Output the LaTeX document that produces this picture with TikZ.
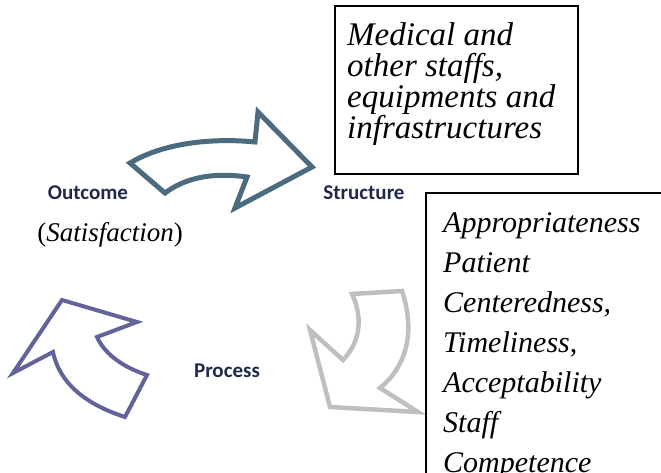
\documentclass[tikz,border=0pt]{standalone}
\usepackage{fontspec}
\setmainfont{Liberation Serif}[ItalicFont={Liberation Serif Italic}, BoldFont={Liberation Serif Bold}]
\newfontfamily\calib{Carlito}
\usepackage{xcolor}
\usetikzlibrary{positioning,calc}

\definecolor{steelarrow}{HTML}{4D6B7E}
\definecolor{purplearrow}{HTML}{63639C}
\definecolor{greyarrow}{HTML}{BFBFBF}
\definecolor{labelnavy}{HTML}{1F2A4A}

\tikzset{
  phase/.style={font=\calib\bfseries\fontsize{21}{25}\selectfont, text=labelnavy, inner sep=0pt},
  listbox/.style={draw, line width=1.6pt, inner sep=0pt, anchor=north west},
  listtext/.style={align=left, inner sep=0pt, anchor=north west, font=\itshape},
}

\begin{document}
\begin{tikzpicture}[x=1pt, y=-1pt]
    \useasboundingbox (0,0) rectangle (661,472);
    \clip (0,0) rectangle (661,472);
    % curved block arrows
    \draw[steelarrow, line width=5pt, line join=miter] (130,163) .. controls (165,142) and (215,138) .. (255,142) -- (258,112) -- (312,167) -- (235,208) -- (247,177) .. controls (212,172) and (185,178) .. (165,193) -- cycle;
    \draw[greyarrow, line width=4.5pt, line join=miter] (352,294) -- (402,291) .. controls (415,330) and (408,365) .. (380,388) -- (418,412) -- (330,407) -- (310,330) -- (343,360) .. controls (362,340) and (362,315) .. (352,294) -- cycle;
    \draw[purplearrow, line width=4pt, line join=miter] (62,300) -- (137,322) -- (97,337) .. controls (105,355) and (125,368) .. (147,375) -- (125,417) .. controls (88,405) and (60,385) .. (53,352) -- (13,373) -- cycle;
    % phase labels
    \node[phase] (outcome) at (88,193) {Outcome};
    \node[inner sep=0pt, font=\fontsize{27}{30}\selectfont] (satisf) at (110,235) {(\textit{Satisfaction})};
    \node[phase] (structure) at (364,193) {Structure};
    \node[phase] (process) at (227,371) {Process};
    % text boxes
    \node[listbox, minimum width=243, minimum height=168] (structbox) at (334,5) {};
    \node[listtext, font=\itshape\fontsize{33}{31}\selectfont] (structtext) at (347,22) {Medical and\\other staffs,\\equipments and\\infrastructures};
    \node[listbox, minimum width=260, minimum height=320] (procbox) at (425,192) {};
    \node[listtext, font=\itshape\fontsize{30}{40}\selectfont] (proctext) at (443,212) {Appropriateness\\Patient\\Centeredness,\\Timeliness\upshape,\\Acceptability\\Staff\\Competence};
\end{tikzpicture}
\end{document}
